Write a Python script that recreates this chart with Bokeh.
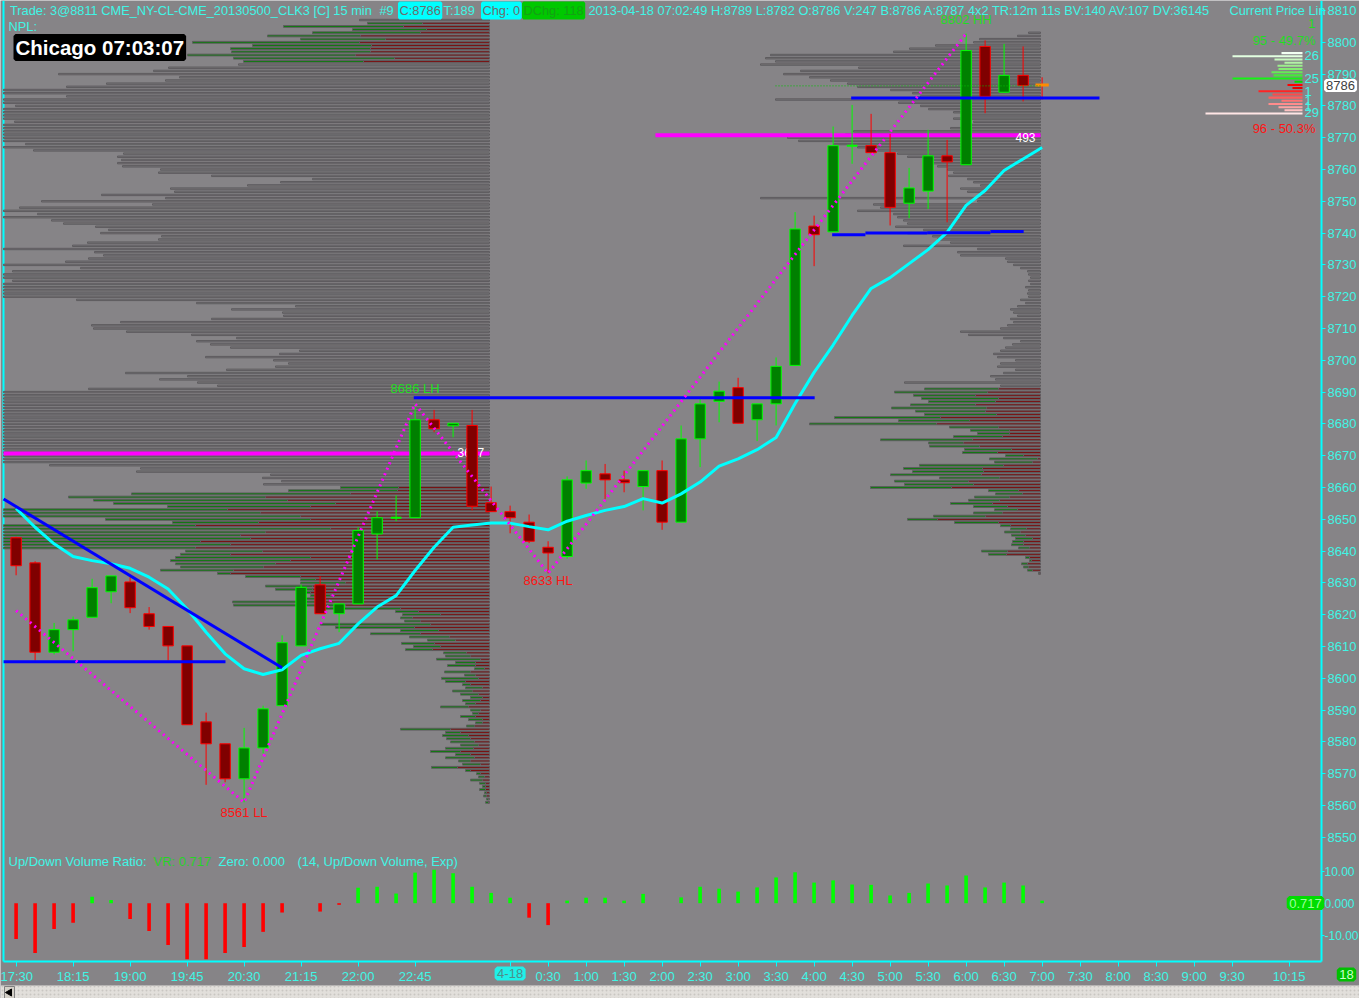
import numpy as np
from bokeh.plotting import figure
from bokeh.models import Range1d, FixedTicker, Label, LinearAxis
from bokeh.core.properties import value
from bokeh.embed import file_html
from bokeh.resources import INLINE

# ---------------------------------------------------------------- data
# 15-minute bars, index 0 = 17:30 (4-17) ... index 54 = 07:00 (4-18)
bar_open = [8644.2, 8636.3, 8608.2, 8615.3, 8619.2, 8627.2, 8630.3, 8620.3, 8616.3, 8610.2,
            8586.3, 8579.4, 8568.4, 8578.1, 8591.4, 8610.2, 8629.4, 8620.3, 8623.4, 8645.4,
            8650.5, 8650.5, 8681.3, 8679.4, 8679.5, 8655.2, 8652.4, 8649.1, 8641.2, 8638.3,
            8661.4, 8664.3, 8662.4, 8660.3, 8665.3, 8649.1, 8675.3, 8687.1, 8691.4, 8681.3,
            8686.3, 8698.4, 8742.2, 8740.4, 8767.5, 8767.5, 8765.3, 8749.4, 8753.2, 8764.3,
            8761.5, 8798.7, 8784.3, 8789.6, 8786.0]
bar_high = [8644.5, 8636.8, 8617.4, 8619.4, 8631.3, 8632.2, 8631.8, 8622.4, 8616.3, 8610.2,
            8589.2, 8579.4, 8584.4, 8591.4, 8613.5, 8629.5, 8632.1, 8623.4, 8647.5, 8652.5,
            8657.5, 8686.3, 8684.4, 8680.2, 8684.4, 8660.3, 8654.3, 8651.5, 8643.1, 8663.5,
            8668.5, 8667.4, 8665.3, 8665.3, 8668.5, 8679.5, 8688.0, 8693.3, 8694.5, 8686.3,
            8700.9, 8746.6, 8745.5, 8773.5, 8780.3, 8777.5, 8771.2, 8760.5, 8772.5, 8769.3,
            8802.7, 8800.6, 8799.5, 8798.7, 8789.0]
bar_low = [8632.4, 8605.6, 8607.5, 8608.5, 8619.2, 8623.6, 8620.5, 8615.3, 8605.6, 8585.4,
           8566.5, 8567.3, 8561.0, 8576.4, 8591.4, 8610.2, 8620.3, 8614.5, 8623.4, 8637.4,
           8649.4, 8650.5, 8677.4, 8675.8, 8652.8, 8652.4, 8645.6, 8642.5, 8633.0, 8637.6,
           8659.6, 8656.4, 8658.5, 8652.8, 8646.7, 8649.1, 8666.4, 8680.5, 8680.2, 8674.6,
           8679.5, 8698.4, 8729.6, 8740.4, 8761.8, 8765.3, 8742.4, 8744.7, 8747.6, 8743.4,
           8761.5, 8777.7, 8784.3, 8781.4, 8782.0]
bar_close = [8635.4, 8608.2, 8615.3, 8618.4, 8628.5, 8632.2, 8622.2, 8616.3, 8610.2, 8585.4,
             8579.4, 8568.4, 8578.1, 8590.4, 8611.2, 8628.6, 8620.3, 8623.4, 8646.5, 8650.5,
             8650.5, 8681.3, 8678.5, 8680.2, 8654.1, 8652.4, 8650.5, 8643.1, 8639.4, 8662.4,
             8665.3, 8662.4, 8661.5, 8665.3, 8649.1, 8675.3, 8686.3, 8690.3, 8680.2, 8686.3,
             8698.1, 8741.3, 8739.5, 8767.5, 8767.5, 8765.3, 8748.1, 8754.2, 8764.3, 8762.4,
             8797.4, 8783.0, 8789.6, 8786.4, 8786.0]
ma_values = [8653.4, 8647.5, 8642.3, 8638.3, 8637.0, 8636.0, 8634.6, 8631.8, 8628.1, 8621.8,
             8614.5, 8607.7, 8603.0, 8601.2, 8602.7, 8607.2, 8609.3, 8611.0, 8617.1, 8622.4,
             8626.0, 8633.9, 8641.2, 8647.5, 8648.2, 8648.8, 8648.8, 8647.7, 8646.7, 8649.4,
             8651.2, 8652.8, 8654.0, 8656.5, 8655.1, 8658.0, 8661.7, 8666.7, 8669.0, 8671.9,
             8675.7, 8686.4, 8696.2, 8704.8, 8714.1, 8722.6, 8726.0, 8730.4, 8734.8, 8740.2,
             8748.7, 8753.4, 8759.7, 8763.3, 8766.9]
vol_ratio = [-11.1, -15.5, -8.0, -6.1, 2.0, 1.0, -4.9, -8.6, -13.0, -17.4,
             -17.4, -15.5, -13.6, -8.9, -2.9, 0.0, -2.6, -0.5, 4.8, 5.1,
             3.0, 9.5, 10.4, 9.3, 5.1, 3.2, 1.7, -4.5, -6.8, 0.8,
             1.7, 1.7, 0.8, 2.9, 0.0, 1.8, 5.1, 4.5, 3.6, 4.9,
             8.0, 9.6, 6.4, 7.1, 5.8, 5.7, 2.4, 3.2, 6.1, 5.5,
             8.6, 4.9, 6.4, 5.5, 0.8]

time_ticks = [0, 3, 6, 9, 12, 15, 18, 21, 26, 28, 30, 32, 34, 36, 38, 40, 42, 44, 46, 48,
              50, 52, 54, 56, 58, 60, 62, 64, 67]
time_labels = ["17:30", "18:15", "19:00", "19:45", "20:30", "21:15", "22:00", "22:45", "4-18",
               "0:30", "1:00", "1:30", "2:00", "2:30", "3:00", "3:30", "4:00", "4:30", "5:00",
               "5:30", "6:00", "6:30", "7:00", "7:30", "8:00", "8:30", "9:00", "9:30", "10:15"]
price_ticks = list(range(8550, 8811, 10))
vol_ticks = [-10, 0, 10]
vol_tick_labels = ["-10.00", "0.000", "10.00"]

# swing zig-zag pivots (bar, price)
zz_bars = [0, 12, 21, 28, 50]
zz_prices = [8621.3, 8561.0, 8686.3, 8633.0, 8802.7]
swing_texts = ["8561 LL", "8686 LH", "8633 HL", "8802 HH"]

# drawn trend / level lines (bar, price)
trend_x0 = [-0.66, -0.66, 20.93, 43.95, 42.95, 44.70, 47.95, 51.28]
trend_x1 = [11.02, 14.00, 42.03, 57.02, 44.70, 47.95, 51.28, 53.03]
trend_y0 = [8605.2, 8656.4, 8688.2, 8782.5, 8739.5, 8740.0, 8740.1, 8740.5]
trend_y1 = [8605.2, 8603.3, 8688.2, 8782.5, 8739.5, 8740.0, 8740.1, 8740.5]
level_x0 = [-0.66, 33.65]
level_x1 = [24.92, 53.92]
level_price = [8670.7, 8770.8]
level_text = ["3677", "493"]

# volume profile 1 (previous session), volumes per price row
p1_up_top = 8806
p1_up_total = [122, 206, 137, 177, 222, 189, 297, 237, 259, 258, 302, 256, 246]
p1_up_sell = [67, 86, 63, 69, 129, 104, 130, 118, 119, 119, 134, 95, 126]
p1_gray_first = 8807
p1_gray_first_total = 130
p1_gray_top = 8793
p1_gray_total = [251, 321, 336, 431, 310, 324, 383, 423,
                 486, 486, 423, 486, 486, 474,
                 486, 486, 486, 486, 475,
                 486, 486, 486, 486, 486, 486,
                 464, 486, 456,
                 366, 372, 368, 372, 367,
                 329, 331, 278, 177, 209, 242, 319, 315, 388, 324, 448, 337, 470, 486, 452, 486,
                 438, 426, 394, 381, 389, 328, 331, 402, 417, 486,
                 395, 386, 401, 424, 486, 409, 477, 486, 486, 477,
                 486, 486, 486, 486, 486,
                 413, 293, 194, 258, 207, 206, 278, 369, 398, 396,
                 363, 298, 253, 293, 279, 259, 190, 210, 284, 216,
                 201, 214, 263, 364, 302, 330, 292, 272, 401,
                 486, 486, 486, 486, 486, 486, 486, 486, 486, 486, 486, 486,
                 486, 486, 486, 486, 486, 486, 486, 486, 486, 486, 486,
                 440, 349, 353, 219, 227, 208, 226]
p1_low_top = 8660
p1_low_total = [149, 201, 358, 421, 396, 376, 322, 486, 486, 486,
                384, 317, 486, 486, 486, 486, 486, 486, 486, 486,
                304, 309, 314, 319, 314, 309, 329, 272, 244, 189,
                189, 224, 214, 189, 179, 184, 257, 256, 174, 94,
                87, 89, 85, 169, 154, 89, 119, 80, 62, 88,
                76, 84, 46, 44, 53, 34, 42, 15, 45, 25,
                48, 44, 27, 24, 37, 29, 19, 27, 24, 49,
                19, 17, 29, 21, 14, 23, 89, 44, 47, 43,
                39, 29, 44, 59, 34, 44, 31, 27, 58, 24,
                13, 11, 19, 10, 7, 10, 5, 6, 3, 4]
p1_low_sell = [91, 92, 139, 224, 202, 154, 179, 262, 229, 189,
               179, 231, 294, 159, 224, 249, 239, 289, 259, 294,
               227, 259, 179, 199, 214, 226, 256, 259, 189, 174,
               144, 177, 177, 179, 159, 164, 169, 144, 89, 71,
               49, 77, 69, 59, 75, 51, 69, 40, 34, 55,
               49, 57, 23, 19, 9, 14, 14, 5, 19, 14,
               11, 24, 19, 7, 17, 11, 7, 9, 14, 21,
               9, 11, 14, 7, 7, 15, 39, 29, 21, 19,
               15, 11, 16, 29, 19, 15, 19, 9, 32, 19,
               9, 5, 7, 4, 4, 4, 3, 3, 1, 1]

# volume profile 2 (current session)
p2_gray_top = 8803
p2_gray_total = [12, 23, 61, 67, 105, 131, 147, 270, 275, 265,
                 280, 182, 240, 257, 231, 210, 193, 183, 150, 128,
                 120, 265, 142, 120, 112, 87, 78, 87, 67, 78,
                 90, 187, 195, 253, 242, 207, 183, 163, 143, 133,
                 113, 108, 103, 93, 87, 92, 73, 67, 60, 80,
                 73, 60, 280, 63, 167, 160, 183, 147, 143, 137,
                 133, 145, 117, 133, 108, 103, 90, 137, 63, 83,
                 80, 35, 33, 27, 20, 13, 12, 10, 12, 10,
                 15, 12, 13, 12, 20, 15, 23, 30, 27, 23,
                 30, 27, 33, 40, 80, 72, 37, 20, 28, 35,
                 40, 47, 43, 25, 40, 43, 25, 37, 50, 45,
                 136, 40]
p2_col_top = 8691
p2_col_total = [116, 146, 127, 119, 112, 130, 149, 125, 116, 206,
                142, 231, 91, 70, 63, 87, 160, 112, 111, 76,
                78, 35, 51, 46, 121, 137, 128, 150, 101, 146,
                136, 170, 52, 45, 66, 72, 90, 67, 46, 67,
                107, 133, 86, 40, 30, 36, 29, 25, 28, 29,
                22, 59, 52, 15, 11, 19, 17, 13, 2]
p2_col_sell = [42, 53, 65, 42, 45, 65, 54, 55, 44, 100,
               71, 104, 42, 31, 31, 38, 68, 77, 61, 29,
               43, 17, 3, 8, 37, 58, 57, 59, 41, 72,
               67, 89, 22, 18, 31, 41, 48, 33, 23, 38,
               55, 103, 42, 30, 14, 20, 15, 8, 17, 17,
               11, 33, 34, 11, 9, 13, 12, 8, 1]

# depth-of-market ladder
dom_ask_price = [8796, 8795, 8794, 8793, 8792, 8791, 8790, 8789, 8788, 8787]
dom_ask_size = [21, 70, 28, 18, 25, 24, 31, 29, 70, 8]
dom_bid_price = [8786, 8785, 8784, 8783, 8782, 8781, 8780, 8779, 8778, 8777]
dom_bid_size = [15, 10, 44, 30, 34, 21, 34, 24, 18, 97]

# ---------------------------------------------------------------- style / layout helpers
BG = "#868487"
TXT = "#40f5e5"
AX = "#00ffff"
FONT = "Liberation Sans"
VOL_PER_BAR = 19.0
W, H = 1359, 998


def X(px):          # screen column -> bar index
    return (px - 15.6) / 19.0


def Y(py):          # screen row -> price
    return 8810.0 - (py - 10.0) / 3.18


def V(py):          # screen row -> volume-ratio units
    return (902.7 - py) / 3.22


def lab(x, y, text, color=TXT, size="12.8px", align="left", bg=None,
        style="normal", bw=0):
    p.add_layout(Label(x=x, y=y, text=text, text_color=color, text_font=FONT,
                       text_font_size=size, text_align=align, text_baseline="middle",
                       text_font_style=style, background_fill_color=bg,
                       border_line_color=(bg if bw else None), border_line_width=max(bw, 1)))


p = figure(width=W, height=H, x_range=Range1d(X(0), X(W)), y_range=Range1d(Y(H), Y(0)),
           x_axis_location=None, y_axis_location=None, output_backend="svg",
           toolbar_location=None, background_fill_color=BG, border_fill_color=BG,
           outline_line_color=None, min_border=0, min_border_left=0, min_border_right=0,
           min_border_top=0, min_border_bottom=0)
p.extra_y_ranges = {"vol": Range1d(V(H), V(0))}
p.xgrid.grid_line_color = None
p.ygrid.grid_line_color = None


def style_axis(ax, size="13px", tick=4, standoff=2):
    ax.axis_line_color = AX
    ax.axis_line_width = 2
    ax.major_tick_line_color = AX
    ax.major_tick_in = 0
    ax.major_tick_out = tick
    ax.minor_tick_line_color = None
    ax.major_label_text_color = TXT
    ax.major_label_text_font = FONT
    ax.major_label_text_font_size = size
    ax.major_label_standoff = standoff


price_axis = LinearAxis(fixed_location=X(1321), bounds=(Y(961), Y(0)),
                        ticker=FixedTicker(ticks=price_ticks))
style_axis(price_axis)
p.add_layout(price_axis, "right")

vol_axis = LinearAxis(y_range_name="vol", fixed_location=X(1321),
                      ticker=FixedTicker(ticks=vol_ticks),
                      major_label_overrides={t: s for t, s in zip(vol_ticks, vol_tick_labels)})
style_axis(vol_axis, size="12px", tick=3, standoff=0)
vol_axis.axis_line_color = None
p.add_layout(vol_axis, "right")

time_axis = LinearAxis(fixed_location=Y(961), bounds=(X(3), X(1321)),
                       ticker=FixedTicker(ticks=time_ticks),
                       major_label_overrides={t: ("" if s == "4-18" else s)
                                              for t, s in zip(time_ticks, time_labels)})
style_axis(time_axis, tick=5)
p.add_layout(time_axis, "below")

# left frame border
p.segment(x0=[X(3)], y0=[Y(0)], x1=[X(3)], y1=[Y(961)], line_color=AX, line_width=2)

# ---------------------------------------------------------------- volume profiles
EDGE = "#5e5c5f"


def rows_gray(right, prices, total):
    prices = np.asarray(prices, float)
    total = np.asarray(total, float)
    p.quad(left=right - total / VOL_PER_BAR, right=right, top=prices + 0.22,
           bottom=prices - 0.22, fill_color="#7a787b", line_color=EDGE, line_width=1)


def rows_split(right, prices, total, sell):
    prices = np.asarray(prices, float)
    total = np.asarray(total, float)
    sell = np.asarray(sell, float)
    mid = right - sell / VOL_PER_BAR
    p.quad(left=right - total / VOL_PER_BAR, right=mid, top=prices + 0.28, bottom=prices - 0.28,
           fill_color="#008000", line_color=EDGE, line_width=1)
    p.quad(left=mid, right=right, top=prices + 0.28, bottom=prices - 0.28,
           fill_color="#800000", line_color=EDGE, line_width=1)


R1 = X(489)
R2 = X(1040)
rows_gray(R1, [p1_gray_first], [p1_gray_first_total])
rows_gray(R1, [p1_gray_top - k for k in range(len(p1_gray_total))], p1_gray_total)
rows_split(R1, [p1_up_top - k for k in range(len(p1_up_total))], p1_up_total, p1_up_sell)
rows_split(R1, [p1_low_top - k for k in range(len(p1_low_total))], p1_low_total, p1_low_sell)
rows_gray(R2, [p2_gray_top - k for k in range(len(p2_gray_total))], p2_gray_total)
rows_split(R2, [p2_col_top - k for k in range(len(p2_col_total))], p2_col_total, p2_col_sell)

# ---------------------------------------------------------------- levels
p.segment(x0=level_x0, y0=level_price, x1=level_x1, y1=level_price, line_color="#ff00ff",
          line_width=4)
p.text(x=[X(457), X(1015)], y=[level_price[0] + 0.4, level_price[1] - 0.8], text=level_text,
       text_color="white", text_font=value(FONT), text_font_size="12px", text_baseline="middle")

# ---------------------------------------------------------------- candles
o = np.array(bar_open)
h = np.array(bar_high)
lo = np.array(bar_low)
c = np.array(bar_close)
n = len(o)
idx = np.arange(n, dtype=float)
up = c >= o
fill = np.where(up, "#008000", "#800000")
edge = np.where(up, "#00ff00", "#ff0000")
edge[-1] = "#ff0000"
p.segment(x0=idx, y0=lo, x1=idx, y1=h, line_color=list(edge), line_width=1)
body = (np.abs(c - o) > 0.05) & (idx < n - 1)
p.vbar(x=idx[body], width=0.55, top=np.maximum(o, c)[body], bottom=np.minimum(o, c)[body],
       fill_color=list(fill[body]), line_color=list(edge[body]), line_width=1)
doji = (np.abs(c - o) <= 0.05) & (idx < n - 1)
p.segment(x0=idx[doji] - 0.28, y0=c[doji], x1=idx[doji] + 0.28, y1=c[doji],
          line_color=list(edge[doji]), line_width=2)
p.segment(x0=[idx[-1] - 0.35], y0=[c[-1] + 0.6], x1=[idx[-1] + 0.35], y1=[c[-1] + 0.6],
          line_color="#ff8c00", line_width=3)

# current price dotted line
p.segment(x0=[X(775)], y0=[c[-1] + 0.3], x1=[idx[-1]], y1=[c[-1] + 0.3], line_color="#00c000",
          line_dash="1 2", line_width=1)

# moving average
p.line(idx, ma_values, line_color="#00ffff", line_width=3)

# trend lines
p.segment(x0=trend_x0, y0=trend_y0, x1=trend_x1, y1=trend_y1, line_color="#0000ff",
          line_width=3)

# zig-zag
p.line(zz_bars, zz_prices, line_color="#ff00ff", line_width=3, line_dash="2 4")

# DOM ladder
DOM_R = X(1302)
ask_cols = ["#f2fff2", "#e2ffe0", "#c8f8c0", "#b2f2a6", "#9cee8c", "#86ec74", "#66ea56",
            "#44ec38", "#14f414", "#00dc00"]
bid_cols = ["#ff0000", "#e80000", "#ff2424", "#ff4a4a", "#ff5c5c", "#ff7474", "#ff8c8c",
            "#ffa4a4", "#ffc2c2", "#ffe6e6"]
ap = np.array(dom_ask_price, float) + 0.6
bp = np.array(dom_bid_price, float) + 0.6
p.quad(left=DOM_R - np.array(dom_ask_size) / VOL_PER_BAR, right=DOM_R, top=ap + 0.32,
       bottom=ap - 0.32, fill_color=ask_cols, line_color=None)
p.quad(left=DOM_R - np.array(dom_bid_size) / VOL_PER_BAR, right=DOM_R, top=bp + 0.32,
       bottom=bp - 0.32, fill_color=bid_cols, line_color=None)

# ---------------------------------------------------------------- volume ratio panel
vr = np.array(vol_ratio)
vcol = ["#00ff00" if v >= 0 else "#ff0000" for v in vr]
p.vbar(x=np.arange(len(vr)), width=0.19, top=np.maximum(vr, 0), bottom=np.minimum(vr, 0),
       fill_color=vcol, line_color=None, y_range_name="vol")

# ---------------------------------------------------------------- scrollbar strip
p.quad(left=[X(0)], right=[X(W)], top=[Y(985)], bottom=[Y(H)], fill_color="#e2dfdb",
       line_color=None, hatch_pattern="dot", hatch_color="#c9c6c2", hatch_scale=4)
p.quad(left=[X(4)], right=[X(14)], top=[Y(986)], bottom=[Y(H)], fill_color="#d4d0c8",
       line_color="#808080")
p.scatter(x=[X(9)], y=[Y(992)], marker="triangle", size=7, angle=np.pi / 2, color="black")

# ---------------------------------------------------------------- texts
hy = Y(10)
lab(X(9.5), hy, "Trade: 3@8811 CME_NY-CL-CME_20130500_CLK3 [C]  15 min")
lab(X(379), hy, "#9")
lab(X(399), hy, "C:8786", color="#6c6c6c", bg="#00ffff", bw=3)
lab(X(443), hy, "T:189")
lab(X(482), hy, "Chg: 0", color="#6c6c6c", bg="#00ffff", bw=3)
lab(X(523), hy, "DChg: 118", color="#14a014", bg="#00c800", bw=3)
lab(X(588), hy, "2013-04-18 07:02:49 H:8789 L:8782 O:8786 V:247 B:8786 A:8787 4x2 "
                "TR:12m 11s BV:140 AV:107 DV:36145")
lab(X(1229), hy, "Current Price Lin")
lab(X(8), Y(26), "NPL:")
lab(X(15), Y(47), "Chicago 07:03:07", color="white", size="20.5px", style="bold",
    bg="black", bw=4)

lab(zz_bars[1], Y(812), swing_texts[0], color="#ff1414", size="13px", align="center")
lab(zz_bars[2], Y(388), swing_texts[1], color="#22dd22", size="13px", align="center")
lab(zz_bars[3], Y(580), swing_texts[2], color="#ff1414", size="13px", align="center")
lab(zz_bars[4], Y(19), swing_texts[3], color="#22dd22", size="13px", align="center")

lab(X(1315), Y(23), "1", color="#22dd22", size="13px", align="right")
lab(X(1315), Y(40), "95 - 49.7%", color="#22dd22", size="13px", align="right")
lab(X(1315), Y(128), "96 - 50.3%", color="#ff1414", size="13px", align="right")
for t, yy in [("26", 55), ("25", 78), ("1", 91), ("1", 100), ("1", 106), ("29", 112)]:
    lab(X(1304), Y(yy), t, color=TXT, size="13px")
lab(X(1340), Y(85), "8786", color="#404040", size="13px", align="center", bg="white", bw=4)

lab(X(8), Y(861), "Up/Down Volume Ratio:", size="13px")
lab(X(153), Y(861), "VR: 0.717", color="#28d228", size="13px")
lab(X(218), Y(861), "Zero: 0.000", size="13px")
lab(X(297), Y(861), "(14, Up/Down Volume, Exp)", size="13px")
lab(X(1305), Y(902.5), "0.717", color="#9cff9c", bg="#00dd00", size="13px", align="center",
    bw=5)
lab(time_ticks[time_labels.index("4-18")], Y(973), "4-18", color="#4b8f8c", bg="#1ff0e8",
    size="13px", align="center", bw=5)
lab(X(1346), Y(974), "18", color="#c8ffc8", bg="#00c000", size="13px", align="center", bw=5)

open("out.html", "w").write(file_html(p, INLINE))
